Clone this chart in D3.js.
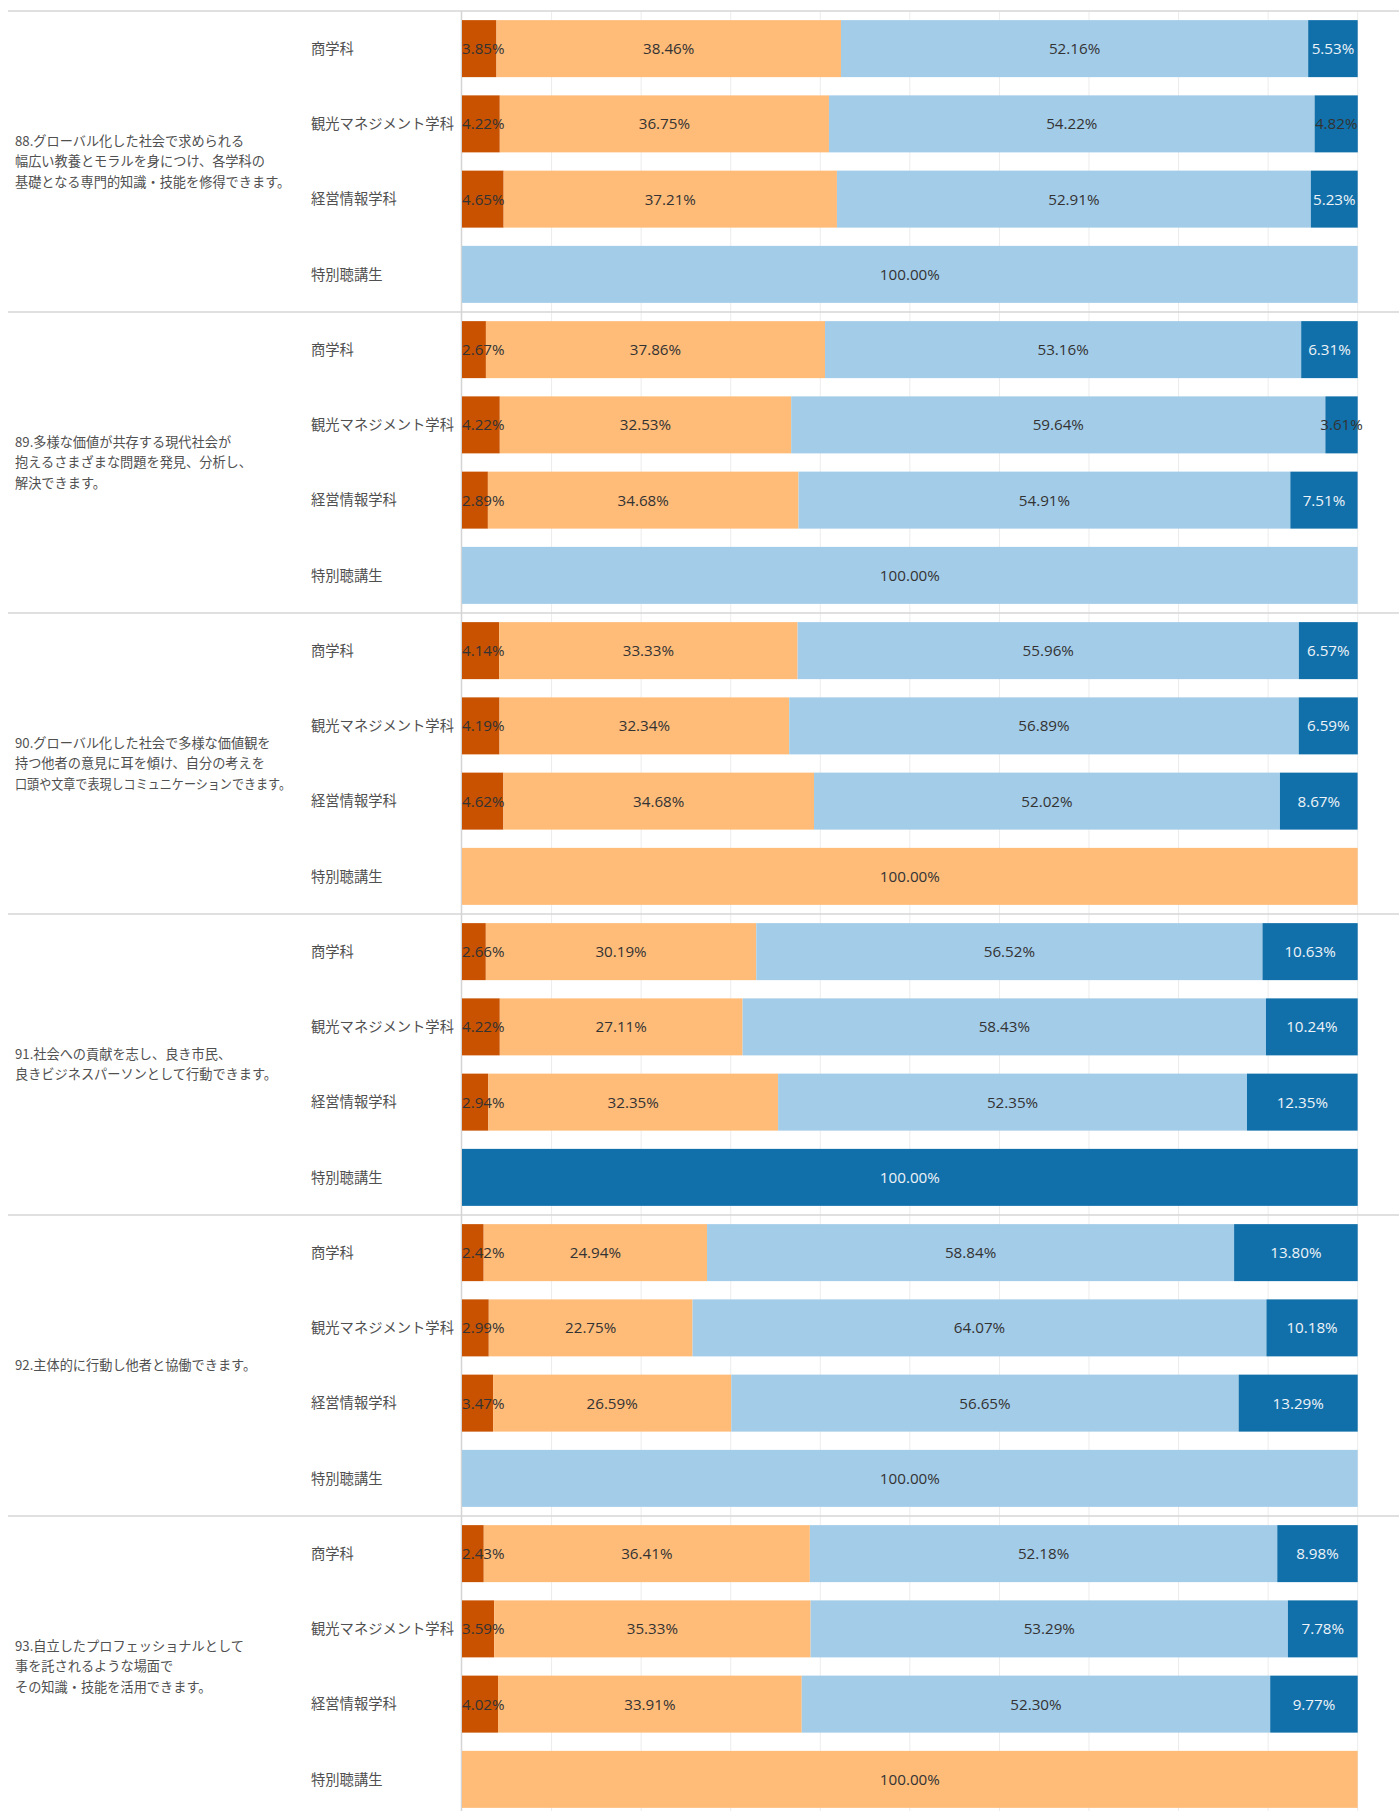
<!DOCTYPE html>
<html lang="ja">
<head>
<meta charset="utf-8">
<script src="https://cdn.jsdelivr.net/npm/d3@7"></script>
<style>
  html, body { margin: 0; padding: 0; background: #fff; }
  svg { display: block; }
</style>
</head>
<body>
<div id="chart"></div>
<script>
// Question items (each label split into its display lines)
const questions = [
  ["88.グローバル化した社会で求められる", "幅広い教養とモラルを身につけ、各学科の", "基礎となる専門的知識・技能を修得できます。"],
  ["89.多様な価値が共存する現代社会が", "抱えるさまざまな問題を発見、分析し、", "解決できます。"],
  ["90.グローバル化した社会で多様な価値観を", "持つ他者の意見に耳を傾け、自分の考えを", "口頭や文章で表現しコミュニケーションできます。"],
  ["91.社会への貢献を志し、良き市民、", "良きビジネスパーソンとして行動できます。"],
  ["92.主体的に行動し他者と協働できます。"],
  ["93.自立したプロフェッショナルとして", "事を託されるような場面で", "その知識・技能を活用できます。"]
];

// Departments (rows inside each question)
const departments = ["商学科", "観光マネジメント学科", "経営情報学科", "特別聴講生"];

// Response shares (%) per department, four stacked answer levels each
const q88 = [[3.85, 38.46, 52.16, 5.53], [4.22, 36.75, 54.22, 4.82], [4.65, 37.21, 52.91, 5.23], [0, 0, 100, 0]];
const q89 = [[2.67, 37.86, 53.16, 6.31], [4.22, 32.53, 59.64, 3.61], [2.89, 34.68, 54.91, 7.51], [0, 0, 100, 0]];
const q90 = [[4.14, 33.33, 55.96, 6.57], [4.19, 32.34, 56.89, 6.59], [4.62, 34.68, 52.02, 8.67], [0, 100, 0, 0]];
const q91 = [[2.66, 30.19, 56.52, 10.63], [4.22, 27.11, 58.43, 10.24], [2.94, 32.35, 52.35, 12.35], [0, 0, 0, 100]];
const q92 = [[2.42, 24.94, 58.84, 13.80], [2.99, 22.75, 64.07, 10.18], [3.47, 26.59, 56.65, 13.29], [0, 0, 100, 0]];
const q93 = [[2.43, 36.41, 52.18, 8.98], [3.59, 35.33, 53.29, 7.78], [4.02, 33.91, 52.30, 9.77], [0, 100, 0, 0]];
const shares = [q88, q89, q90, q91, q92, q93];

// Answer levels and their colours
const levels = [0, 1, 2, 3];
const levelColors = ["#c85200", "#ffbc79", "#a3cce9", "#1170aa"];

// Gridline ticks (%)
const gridTicks = [0, 10, 20, 30, 40, 50, 60, 70, 80, 90, 100];

const W = 1399, H = 1811;
const topY = 11, groupH = 301;
const plotLeft = 462, plotRight = 1357.7;
const questionMaxW = 276;

const svg = d3.select("#chart").append("svg")
  .attr("width", W).attr("height", H);

const x = d3.scaleLinear().domain([0, 100]).range([plotLeft, plotRight]);
const yGroup = d3.scaleBand()
  .domain(d3.range(questions.length))
  .range([topY, topY + groupH * questions.length]);
const yRow = d3.scaleBand()
  .domain(departments)
  .range([0, groupH])
  .paddingInner(0.2425)
  .paddingOuter(0.12125);

const color = d3.scaleOrdinal().domain(levels).range(levelColors);

// vertical gridlines
svg.append("g")
  .selectAll("line")
  .data(gridTicks.slice(1))
  .join("line")
  .attr("x1", d => x(d)).attr("x2", d => x(d))
  .attr("y1", topY).attr("y2", H)
  .attr("stroke", "#ececec").attr("stroke-width", 1);

// question separators
svg.append("g")
  .selectAll("line")
  .data(d3.range(questions.length + 1))
  .join("line")
  .attr("x1", 8).attr("x2", W)
  .attr("y1", d => topY + d * groupH).attr("y2", d => topY + d * groupH)
  .attr("stroke", "#d6d6d6").attr("stroke-width", 1.5);

// zero axis line
svg.append("line")
  .attr("x1", plotLeft - 0.5).attr("x2", plotLeft - 0.5)
  .attr("y1", topY).attr("y2", H)
  .attr("stroke", "#d4d4d4").attr("stroke-width", 1.5);

const groups = svg.append("g")
  .selectAll("g.q")
  .data(questions)
  .join("g")
  .attr("class", "q")
  .attr("transform", (d, i) => `translate(0,${yGroup(i)})`);

// question text (long lines are squeezed to fit the label column)
groups.append("text")
  .attr("font-family", "'Noto Sans CJK JP', sans-serif")
  .attr("font-size", 13.2)
  .attr("fill", "#505050")
  .each(function (lines) {
    const lh = 20.5;
    const y0 = groupH / 2 - (lines.length - 1) * lh / 2;
    d3.select(this).selectAll("tspan")
      .data(lines)
      .join("tspan")
      .attr("x", 15)
      .attr("y", (d, j) => y0 + j * lh)
      .attr("dy", "0.35em")
      .text(d => d)
      .each(function () {
        const w = this.getComputedTextLength();
        if (w > questionMaxW) {
          d3.select(this)
            .attr("textLength", questionMaxW)
            .attr("lengthAdjust", "spacingAndGlyphs");
        }
      });
  });

// department labels
groups.selectAll("text.dept")
  .data(departments)
  .join("text")
  .attr("class", "dept")
  .attr("x", 311)
  .attr("y", d => yRow(d) + yRow.bandwidth() / 2)
  .attr("dy", "0.36em")
  .attr("font-family", "'Noto Sans CJK JP', sans-serif")
  .attr("font-size", 14.3)
  .attr("fill", "#505050")
  .text(d => d);

// stacked segments
const stack = d3.stack().keys(levels);

groups.each(function (q, gi) {
  const g = d3.select(this);
  const rows = shares[gi].map((vals, ri) => {
    const o = { dept: departments[ri] };
    levels.forEach(l => { o[l] = vals[l]; });
    return o;
  });
  const series = stack(rows);
  const segs = [];
  series.forEach(s => s.forEach(d => {
    if (d[1] - d[0] > 0) segs.push({ level: s.key, x0: d[0], x1: d[1], v: d.data[s.key], dept: d.data.dept });
  }));

  g.selectAll("rect.seg")
    .data(segs)
    .join("rect")
    .attr("class", "seg")
    .attr("x", d => x(d.x0))
    .attr("width", d => x(d.x1) - x(d.x0))
    .attr("y", d => yRow(d.dept))
    .attr("height", yRow.bandwidth())
    .attr("fill", d => color(d.level));

  g.selectAll("text.val")
    .data(segs)
    .join("text")
    .attr("class", "val")
    .attr("y", d => yRow(d.dept) + yRow.bandwidth() / 2)
    .attr("dy", "0.36em")
    .attr("font-family", "'Open Sans', sans-serif")
    .attr("font-size", 15.2)
    .text(d => d.v.toFixed(2) + "%")
    .each(function (d) {
      const t = d3.select(this);
      const w = this.getComputedTextLength();
      const segW = x(d.x1) - x(d.x0);
      let left = (x(d.x0) + x(d.x1)) / 2 - w / 2;
      if (left < plotLeft) left = plotLeft;
      t.attr("x", left);
      const light = d.level === 3 && w + 2 <= segW;
      t.attr("fill", light ? "#eef3f8" : "#333");
    });
});
</script>
</body>
</html>
